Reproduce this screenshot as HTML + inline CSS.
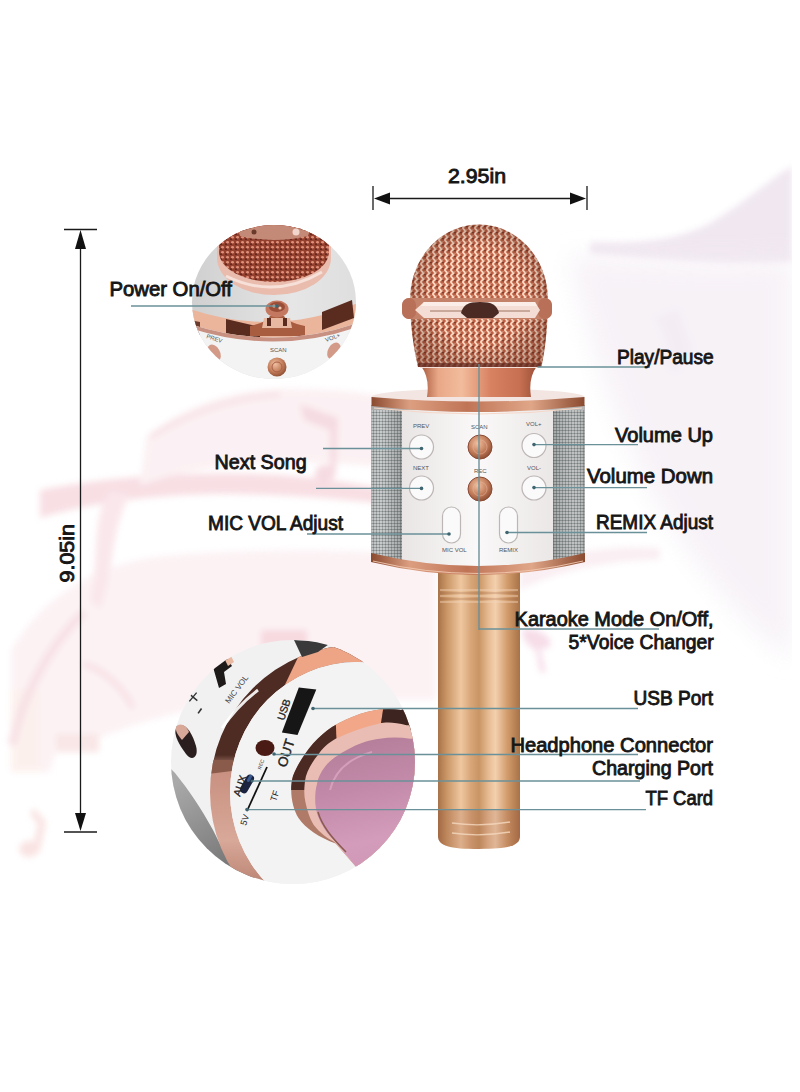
<!DOCTYPE html>
<html><head><meta charset="utf-8">
<style>
html,body{margin:0;padding:0;background:#fff;width:800px;height:1092px;overflow:hidden}
svg{display:block}
text{font-family:"Liberation Sans",sans-serif;font-weight:bold;fill:#161616}
.lbl text, text.lbl{font-weight:normal;stroke:#161616;stroke-width:0.85}
.lbl{font-size:19.5px}
.sm{font-size:6px;font-weight:normal;fill:#555}
.ld{stroke:#6a9199;stroke-width:1.4;fill:none}
.dim{stroke:#1a1a1a;stroke-width:1.3;fill:none}
</style></head>
<body>
<svg width="800" height="1092" viewBox="0 0 800 1092">
<defs>
  <filter id="blur8" x="-20%" y="-20%" width="140%" height="140%"><feGaussianBlur stdDeviation="8"/></filter>
  <filter id="blur12" x="-30%" y="-30%" width="160%" height="160%"><feGaussianBlur stdDeviation="12"/></filter>
  <filter id="blur3"><feGaussianBlur stdDeviation="3"/></filter>
  <filter id="blur1"><feGaussianBlur stdDeviation="0.8"/></filter>
  <linearGradient id="copperH" x1="0" x2="1" y1="0" y2="0">
    <stop offset="0" stop-color="#8a4a30"/><stop offset="0.18" stop-color="#dc9e80"/>
    <stop offset="0.45" stop-color="#c07456"/><stop offset="0.75" stop-color="#e0a688"/>
    <stop offset="1" stop-color="#8a4a30"/>
  </linearGradient>
  <linearGradient id="handleG" x1="0" x2="1">
    <stop offset="0" stop-color="#a87248"/><stop offset="0.1" stop-color="#c89464"/>
    <stop offset="0.28" stop-color="#efc7a0"/><stop offset="0.4" stop-color="#d8a678"/>
    <stop offset="0.5" stop-color="#c99565"/><stop offset="0.62" stop-color="#e8bc94"/>
    <stop offset="0.7" stop-color="#f3d0ae"/><stop offset="0.85" stop-color="#d09a6a"/>
    <stop offset="1" stop-color="#a87248"/>
  </linearGradient>
  <linearGradient id="grilleG" x1="0" x2="1">
    <stop offset="0" stop-color="#a9a9a9"/><stop offset="0.5" stop-color="#cfcfcf"/><stop offset="1" stop-color="#b5b5b5"/>
  </linearGradient>
  <pattern id="dots" width="3" height="3" patternUnits="userSpaceOnUse">
    <circle cx="1.5" cy="1.5" r="1.1" fill="#4f5555" fill-opacity="0.6"/><circle cx="0" cy="0" r="0.7" fill="#f0f0f0" fill-opacity="0.7"/><circle cx="3" cy="3" r="0.7" fill="#f0f0f0" fill-opacity="0.7"/><circle cx="3" cy="0" r="0.7" fill="#f0f0f0" fill-opacity="0.7"/><circle cx="0" cy="3" r="0.7" fill="#f0f0f0" fill-opacity="0.7"/>
  </pattern>
  <linearGradient id="grL" x1="0" x2="1"><stop offset="0" stop-color="#b4b8b8"/><stop offset="0.3" stop-color="#c4c8c8"/><stop offset="0.7" stop-color="#a8acac"/><stop offset="1" stop-color="#8c9090"/></linearGradient>
  <linearGradient id="grR" x1="0" x2="1"><stop offset="0" stop-color="#8c9090"/><stop offset="0.3" stop-color="#a8acac"/><stop offset="0.7" stop-color="#b8bcbc"/><stop offset="1" stop-color="#a4a8a8"/></linearGradient>
  <linearGradient id="dotMaskL" x1="0" x2="1"><stop offset="0" stop-color="#fff" stop-opacity="0.25"/><stop offset="1" stop-color="#fff" stop-opacity="1"/></linearGradient>
  <pattern id="mesh" width="6" height="6" patternUnits="userSpaceOnUse">
    <rect width="6" height="6" fill="#bd5f45"/>
    <path d="M0.5,0 L3.5,3 L0.5,6" stroke="#fbd9c2" stroke-width="1.9" fill="none"/>
    <path d="M3.5,3 L5.5,1" stroke="#e8a48a" stroke-width="0.9" fill="none"/>
    <circle cx="5" cy="4.6" r="0.9" fill="#7a3424"/>
  </pattern>
  <radialGradient id="headShade" cx="0.5" cy="0.5" r="0.62">
    <stop offset="0.55" stop-color="#000" stop-opacity="0"/><stop offset="1" stop-color="#5a2414" stop-opacity="0.4"/>
  </radialGradient>
  <linearGradient id="panelG" x1="0" x2="1">
    <stop offset="0" stop-color="#e9e5e5"/><stop offset="0.5" stop-color="#faf8f8"/><stop offset="1" stop-color="#ebe7e7"/>
  </linearGradient>
  <radialGradient id="btnCopper" cx="0.4" cy="0.35" r="0.7">
    <stop offset="0" stop-color="#f0c0a0"/><stop offset="0.6" stop-color="#c07a58"/><stop offset="1" stop-color="#8a4a30"/>
  </radialGradient>
  <clipPath id="c1"><ellipse cx="274" cy="302" rx="82" ry="77"/></clipPath>
  <clipPath id="c2"><circle cx="293" cy="762" r="122"/></clipPath>
  <linearGradient id="c1grey" x1="0" x2="1">
    <stop offset="0" stop-color="#cfcfcf"/><stop offset="0.6" stop-color="#e6e6e6"/><stop offset="1" stop-color="#dedede"/>
  </linearGradient>
  <linearGradient id="band2G" gradientUnits="userSpaceOnUse" x1="0" y1="640" x2="0" y2="890">
    <stop offset="0" stop-color="#4e2c24"/><stop offset="0.46" stop-color="#4e2c24"/>
    <stop offset="0.52" stop-color="#c89080"/><stop offset="0.8" stop-color="#d8a898"/><stop offset="1" stop-color="#b88070"/>
  </linearGradient>
  <clipPath id="band2clip"><path fill-rule="evenodd" clip-rule="evenodd" d="M210,792 A147,147 0 1 0 504,792 A147,147 0 1 0 210,792 Z M230,792 A127,130 0 1 0 484,792 A127,130 0 1 0 230,792 Z"/></clipPath>
  <pattern id="mesh1" width="5" height="5" patternUnits="userSpaceOnUse">
    <rect width="5" height="5" fill="#94402e"/>
    <ellipse cx="2.5" cy="2.2" rx="1.5" ry="1.3" fill="#e0907a"/>
    <circle cx="1" cy="4.2" r="0.9" fill="#5a2018"/>
  </pattern>
  <linearGradient id="pinkG" gradientUnits="userSpaceOnUse" x1="360" y1="740" x2="390" y2="870">
    <stop offset="0" stop-color="#b57f9b"/><stop offset="0.35" stop-color="#c28aa8"/><stop offset="0.75" stop-color="#d49cbb"/><stop offset="1" stop-color="#cf96b6"/>
  </linearGradient>
  <linearGradient id="collarG" x1="0" x2="1">
    <stop offset="0" stop-color="#a85a3e"/><stop offset="0.15" stop-color="#e9a888"/><stop offset="0.35" stop-color="#f2bc9c"/>
    <stop offset="0.6" stop-color="#d88262"/><stop offset="0.85" stop-color="#c87052"/><stop offset="1" stop-color="#9a5038"/>
  </linearGradient>
  <linearGradient id="greyCres" gradientUnits="userSpaceOnUse" x1="180" y1="780" x2="240" y2="880">
    <stop offset="0" stop-color="#a9a9a9"/><stop offset="0.5" stop-color="#8c8c8c"/><stop offset="1" stop-color="#6e6e6e"/>
  </linearGradient>
</defs>

<!-- background swooshes -->
<g filter="url(#blur3)" opacity="0.7">
  <!-- big lower-left sheet -->
  <path d="M11,650 C40,600 90,565 160,556 C250,548 350,548 436,556 L436,700 L300,700 C220,700 160,715 110,734 L56,752 L50,772 L11,772 Z" fill="#fbedf0"/>
  <rect x="56" y="734" width="43" height="18" fill="#f7dcdc"/>
  <path d="M11,690 L40,690 L40,772 L11,772 Z" fill="#fbebe6"/>
  <path d="M84,612 C45,650 22,700 12,745" stroke="#f5d6dc" stroke-width="9" fill="none"/>
  <path d="M83,664 C100,668 122,685 133,708" stroke="#f5d4da" stroke-width="6" fill="none"/>
  <!-- mid ribbon -->
  <path d="M40,490 C100,478 180,472 260,474 C320,476 370,486 400,492 L400,506 C350,500 290,494 220,494 C150,495 90,503 40,518 Z" fill="#f5d2d9"/>
  <path d="M110,490 C90,520 100,560 90,600 L100,610 C115,570 110,530 130,495 Z" fill="#f8dde3"/>
  
  <!-- upper sheet -->
  <path d="M146,437 C180,410 220,392 277,389 C320,388 370,392 400,400 L400,470 C340,460 260,460 200,470 C175,474 155,480 140,486 Z" fill="#faebee"/>
  <path d="M150,437 C190,412 230,398 280,394" stroke="#f4d4da" stroke-width="5" fill="none"/>
  <!-- music note upper -->
  <path d="M300,404 L338,418 L336,470 C336,482 322,486 316,478 C312,470 320,462 330,466 L330,430 L304,420 Z" fill="#f2ccd5"/>
  <!-- music note bottom-left -->
  <path d="M34,808 L46,822 L40,850 C36,858 24,860 20,852 C17,845 26,838 34,842 L38,824 L30,814 Z" fill="#f6d8d6"/>
  <!-- pink blob above circle 2 -->
  <rect x="261" y="630" width="46" height="17" fill="#f4cad3"/>
  <!-- right lavender wave -->
  <path d="M590,242 C640,244 680,240 712,222 C745,202 772,178 792,166 L792,262 C740,266 680,262 590,254 Z" fill="#eadeea"/>
  
  <path d="M655,318 L678,310 L692,350 L676,372 C668,368 665,360 670,352 L662,330 Z" fill="#e8e0e8"/>
  <path d="M520,570 C560,552 610,545 660,548 L660,560 C610,560 560,570 520,590 Z" fill="#f8e8ee"/>
  <!-- pink music note right -->
  <path d="M522,630 C530,626 545,632 550,640 C552,648 546,650 540,648 L546,672 L540,672 L536,650 C530,648 522,640 522,630 Z" fill="#f3cfdf"/>
</g>

<g filter="url(#blur12)" opacity="0.8">
  <path d="M570,256 C640,258 720,268 792,258 L792,660 C740,620 690,560 650,490 C615,420 585,330 570,256 Z" fill="#f5eff5"/>
</g>
<rect x="792" y="0" width="8" height="1092" fill="#ffffff"/>
<!-- dimension: width -->
<g>
  <line class="dim" x1="373" y1="186" x2="373" y2="210"/>
  <line class="dim" x1="587" y1="186" x2="587" y2="210"/>
  <line class="dim" x1="380" y1="198.5" x2="580" y2="198.5"/>
  <path d="M374,198.5 L390,192.5 L390,204.5 Z" fill="#111"/>
  <path d="M586,198.5 L570,192.5 L570,204.5 Z" fill="#111"/>
  <text class="lbl" x="448" y="182.5" textLength="58" lengthAdjust="spacingAndGlyphs">2.95in</text>
</g>
<!-- dimension: height -->
<g>
  <line class="dim" x1="64" y1="229.5" x2="97" y2="229.5"/>
  <line class="dim" x1="64" y1="832" x2="97" y2="832"/>
  <line class="dim" x1="80.5" y1="235" x2="80.5" y2="826"/>
  <path d="M80.5,230 L75,249 L86,249 Z" fill="#111"/>
  <path d="M80.5,831 L75,813 L86,813 Z" fill="#111"/>
  <text class="lbl" transform="translate(74,582.5) rotate(-90)" x="0" y="0" textLength="58.5" lengthAdjust="spacingAndGlyphs">9.05in</text>
</g>

<!-- ============ CIRCLE 1 ============ -->
<g clip-path="url(#c1)">
  <rect x="190" y="220" width="170" height="170" fill="url(#c1grey)"/>
  <!-- bowl -->
  <ellipse cx="274" cy="258" rx="57" ry="37" fill="#e9bcae"/>
  <path d="M217,226 L331,226 L331,258 L217,258 Z" fill="#e9bcae"/>
  <ellipse cx="274" cy="252" rx="55" ry="30" fill="url(#mesh1)"/>
  <path d="M219,226 L329,226 L329,248 L219,248 Z" fill="url(#mesh1)"/>
  <path d="M236,224 L312,224 L308,236 Q274,244 240,236 Z" fill="#c48a78"/>
  <circle cx="296" cy="232" r="3.5" fill="#f2d6cc"/>
  <circle cx="254" cy="232" r="2.5" fill="#6a3a2a"/>
  <path d="M226,276 Q274,300 322,272" stroke="#f6e0d8" stroke-width="3" fill="none"/>
  <!-- band -->
  <path d="M190,309 Q277,338 360,302 L360,322 Q277,352 190,324 Z" fill="#ebb59c"/>
  <path d="M226,319 L260,327 L260,342 L226,334 Z" fill="#5a2c20"/>
  <path d="M322,312 L352,300 L354,318 L322,330 Z" fill="#5a2c20"/>
  <path d="M190,320 L200,322 L200,336 L190,334 Z" fill="#6a3a2c"/>
  <!-- knob flare -->
  <path d="M250,326 Q268,322 270,316 L284,316 Q287,322 305,326 L305,336 L250,336 Z" fill="#a85c40"/>
  <path d="M264,318 L290,318 L292,328 L262,328 Z" fill="#e8b8a0"/>
  <ellipse cx="277" cy="309" rx="11.5" ry="8.5" fill="#c47860"/>
  <ellipse cx="277" cy="307" rx="8" ry="5" fill="#9a4e38"/>
  <circle cx="274" cy="306" r="1.6" fill="#f0c8b0"/><circle cx="280" cy="308" r="1.6" fill="#f0c8b0"/>
  <path d="M267,318 L271,318 L271,326 L267,326 Z M283,318 L287,318 L287,326 L283,326 Z" fill="#5a2c20"/>
  <!-- lower white area -->
  <path d="M190,324 Q277,352 360,322 L360,390 L190,390 Z" fill="#f3f3f3"/>
  <path d="M190,324 Q277,352 360,322 L360,326 Q277,356 190,328 Z" fill="#c89080"/>
  <circle cx="277" cy="367" r="9.5" fill="url(#btnCopper)"/>
  <circle cx="277" cy="367" r="5" fill="none" stroke="#a86048" stroke-width="1"/>
  <ellipse cx="214" cy="353" rx="6" ry="9" fill="#d49a88" transform="rotate(-30 214 353)"/>
  <ellipse cx="334" cy="351" rx="6" ry="9" fill="#d49a88" transform="rotate(30 334 351)"/>
  <text class="sm" x="270" y="352">SCAN</text>
  <text class="sm" transform="translate(206,338) rotate(18)">PREV</text>
  <text class="sm" transform="translate(326,342) rotate(-20)">VOL+</text>
</g>

<!-- ============ MIC ============ -->
<g id="mic">
  <!-- handle -->
  <path d="M438,566 L520,566 L520,836 C520,846 508,849 479,849 C450,849 438,846 438,836 Z" fill="url(#handleG)"/>
  <path d="M438,810 L520,810 L520,836 C520,846 508,849 479,849 C450,849 438,846 438,836 Z" fill="#8a4030" opacity="0.18"/>
  <g stroke="#f3d6bc" stroke-width="1" opacity="0.85" fill="none">
    <line x1="440" y1="590" x2="518" y2="590"/><line x1="440" y1="596" x2="518" y2="596"/><line x1="440" y1="602" x2="518" y2="602"/>
    <path d="M452,823 Q480,827 510,822" stroke-width="1.3"/><path d="M452,833 Q480,837 510,832" stroke-width="1.3"/>
  </g>
  <g stroke="#9a6040" stroke-width="0.8" opacity="0.6" fill="none">
    <line x1="440" y1="593" x2="518" y2="593"/><line x1="440" y1="599" x2="518" y2="599"/>
  </g>
  <!-- body -->
  <clipPath id="bodyclip"><path d="M371,405 L585,405 L585,556 Q478,582 371,556 Z"/></clipPath>
  <g clip-path="url(#bodyclip)">
  <rect x="371" y="405" width="214" height="180" fill="url(#grilleG)"/>
  <rect x="371.5" y="410" width="30.5" height="170" fill="url(#grL)"/><rect x="371.5" y="410" width="30.5" height="170" fill="url(#dots)"/>
  <rect x="553" y="410" width="31.5" height="170" fill="url(#grR)"/><rect x="553" y="410" width="31.5" height="170" fill="url(#dots)"/>
  <rect x="402" y="410" width="151" height="170" fill="url(#panelG)"/>
  </g>
  <!-- bottom rim -->
  <path d="M371,553 Q478,579 585,553 L585,562 Q478,588 371,562 Z" fill="url(#copperH)"/>
  <path d="M373,561 Q478,586 583,561" stroke="#f0c8b0" stroke-width="0.9" fill="none"/>
  <!-- top rim -->
  <ellipse cx="478" cy="397" rx="106.5" ry="8.5" fill="#f3e6e2"/>
  <path d="M371.5,397 Q478,406 584.5,397 L584.5,406 Q478,418 371.5,406 Z" fill="url(#copperH)"/>
  <path d="M374,408 Q478,420 582,408" stroke="#f6d8c8" stroke-width="1" fill="none"/>
  <!-- collar -->
  <path d="M421,366 L537,366 Q528,378 531,397 L427,397 Q430,378 421,366 Z" fill="url(#collarG)"/>
  <!-- head -->
  <path d="M410,300 C410,258 441,224.5 479,224.5 C517,224.5 548,258 548,300 C548,325 545,350 541.5,367 L418,367 C414,350 410,325 410,300 Z" fill="url(#mesh)"/>
  <path d="M410,300 C410,258 441,224.5 479,224.5 C517,224.5 548,258 548,300 C548,325 545,350 541.5,367 L418,367 C414,350 410,325 410,300 Z" fill="url(#headShade)"/>
  <path d="M418,363 L541.5,363 L541,367 L418,367 Z" fill="#6a3024" opacity="0.75"/>
  <path d="M420,367.5 L540,367.5" stroke="#f4e0d8" stroke-width="1.2"/>
  <!-- head band -->
  <rect x="402" y="298" width="150" height="21" rx="8" fill="#c4826a"/>
  <rect x="402" y="298" width="14" height="21" rx="7" fill="#b87058"/>
  <rect x="538" y="298" width="14" height="21" rx="7" fill="#b87058"/>
  <path d="M415,310 L424,302 L535,302 L540,310 L535,318 L424,318 Z" fill="#f4ddd4"/>
  <path d="M424,302 L535,302 L537,306 L421,306 Z" fill="#fbeee8"/>
  <path d="M430,311 L530,311" stroke="#8a5a4a" stroke-width="0.8"/>
  <path d="M461,313 C463,305 468,302 480,302 C492,302 497,305 499,313 L493,318 L467,318 Z" fill="#4a2a22"/>
  <!-- buttons -->
  <text class="sm" x="413" y="428">PREV</text>
  <text class="sm" x="471" y="429">SCAN</text>
  <text class="sm" x="526" y="426">VOL+</text>
  <text class="sm" x="413" y="470">NEXT</text>
  <text class="sm" x="474" y="473">REC</text>
  <text class="sm" x="527" y="470">VOL-</text>
  <g fill="#fbfafa" stroke="#bdb6b6" stroke-width="1.2">
    <circle cx="421.5" cy="447" r="12"/><circle cx="534" cy="445.5" r="12"/>
    <circle cx="421.5" cy="488" r="12"/><circle cx="534" cy="488" r="12"/>
    <rect x="442.5" y="507" width="18" height="36" rx="9"/>
    <rect x="499.5" y="507" width="18" height="36" rx="9"/>
  </g>
  <circle cx="480" cy="447" r="12" fill="url(#btnCopper)" stroke="#8a4a34" stroke-width="1"/>
  <circle cx="480" cy="489" r="12" fill="url(#btnCopper)" stroke="#8a4a34" stroke-width="1"/>
  <circle cx="480" cy="447" r="7" fill="none" stroke="#e8b49a" stroke-width="0.8" opacity="0.7"/>
  <circle cx="480" cy="489" r="7" fill="none" stroke="#e8b49a" stroke-width="0.8" opacity="0.7"/>
  <text class="sm" x="442" y="552">MIC VOL</text>
  <text class="sm" x="499" y="552">REMIX</text>
</g>

<!-- ============ CIRCLE 2 ============ -->
<g clip-path="url(#c2)">
  <rect x="170" y="638" width="248" height="248" fill="#f1f1f1"/>
  <!-- grey crescent lower-left -->
  <path d="M166,764 L175,773 C188,789 201,808 213,830 L222,848 L236,866 L268,886 L166,886 Z" fill="url(#greyCres)"/>
  
  <!-- outer band ring -->
  <path fill-rule="evenodd" fill="url(#band2G)" d="M210,792 A147,147 0 1 0 504,792 A147,147 0 1 0 210,792 Z M230,792 A127,130 0 1 0 484,792 A127,130 0 1 0 230,792 Z"/>
  <g clip-path="url(#band2clip)">
    <path d="M311,630 L420,630 L420,700 L277.7,700 Z" fill="#eea586"/>
    <path d="M200,760 L240,760 L240,770 L200,775 Z" fill="#8a5a4a"/>
  </g>
  <!-- white highlight along outer band -->
  <path d="M258,690 Q238,705 222,728" stroke="#ffffff" stroke-width="3" fill="none" opacity="0.9"/>
  <!-- white base -->
  <ellipse cx="357" cy="792" rx="127" ry="130" fill="#f4f3f3"/>
  <!-- grille triangle top -->
  <path d="M294,640 L332,642 L318,652 L302,657 Z" fill="#3a3a3a"/>
  <!-- side panel items -->
  <path d="M213,667 L227,658 L232,666 L224,672 L226,684 L219,688 Z" fill="#1e1a1a"/>
  <path d="M225,660 L231,656 L234,662 L228,666 Z" fill="#e8b8a0"/>
  <text transform="translate(229,704) rotate(-53)" style="font-size:8px;font-weight:normal;fill:#444">MIC VOL</text>
  <path d="M189,693 L197,701 M189,701 L197,693" stroke="#333" stroke-width="1.4" transform="rotate(-5 193 697)"/>
  <rect x="197" y="710" width="6" height="1.6" fill="#333" transform="rotate(-55 200 711)"/>
  <path d="M176,727 C184,720 192,732 196,746 C199,757 192,762 186,754 C180,746 173,735 176,727 Z" fill="#2a1e1e"/>
  <path d="M176,727 C180,722 186,725 189,732 L182,740 C178,735 175,731 176,727 Z" fill="#d8a898"/>
  <!-- pink handle ring -->
  <clipPath id="ringO"><path d="M430,700 L401,710 C380,706 355,713 332,727 C315,738 300,758 293,776 C289,790 292,808 298.5,818 C305,828 320,838 335.6,843.4 L358,869 L430,900 Z"/></clipPath>
  <g clip-path="url(#ringO)">
    <rect x="280" y="690" width="150" height="200" fill="#b07a68"/>
    <path d="M280,690 L334,690 L337,745 L305,790 L280,790 Z" fill="#4a2a22"/>
    <path d="M334,690 L386,690 L380,730 L337,745 Z" fill="#f2a888"/>
    <path d="M386,690 L430,690 L430,730 L380,730 Z" fill="#3e2420"/>
  </g>
  <path fill="#e9bdb3" d="M430,725 L406.5,725.3 C395,722 385,722 379.5,723.6 C365,727 350,732 335.6,738.8 C328,743 322,749 318.7,754 C312,762 306,772 305,781 C304,790 304,795 305.2,801 C307,810 310,819 313.7,825 C320,833 327,838 334,841.7 L358,869 L430,900 Z"/>
  <path fill="url(#pinkG)" d="M430,738 L410,738.8 C400,737 390,737 379.5,738.8 C370,740 360,743 352.5,747 C342,752 333,758 327.2,764 C322,770 318,777 317,784 C315,791 315,798 315.4,804.6 C316,810 317,814 318.7,818 C323,828 329,836 334,840 L357.6,868.7 L430,900 Z"/>
  <path d="M318,812 C322,826 332,838 346,852" stroke="#8a5a50" stroke-width="1.5" fill="none"/>
  <path d="M330,790 C335,770 350,758 372,752" stroke="#d9a6c0" stroke-width="2" fill="none" opacity="0.8"/>
  <!-- ports -->
  <path d="M298.8,687.5 L316.3,689.4 L297.5,735 L281.9,732.5 Z" fill="#161616"/>
  <ellipse cx="265" cy="748" rx="9.5" ry="8" fill="#4a1a14"/>
  <rect x="-4" y="-10" width="8" height="20" rx="4" fill="#1a2440" transform="translate(247,784) rotate(30)"/><rect x="-2" y="-8" width="3" height="8" rx="1.5" fill="#3a5a90" transform="translate(248,782) rotate(30)"/>
  <line x1="267" y1="767" x2="247" y2="811" stroke="#111" stroke-width="1.8"/>
  <text transform="translate(284,721) rotate(-72)" style="font-size:10.5px;font-weight:normal;fill:#222;stroke:#222;stroke-width:0.3">USB</text>
  <text transform="translate(286,768) rotate(-72)" style="font-size:13.5px;font-weight:normal;fill:#222;stroke:#222;stroke-width:0.4">OUT</text>
  <text transform="translate(240,797) rotate(-72)" style="font-size:10.5px;font-weight:normal;fill:#222;stroke:#222;stroke-width:0.3">AUX</text><text transform="translate(261,770) rotate(-72)" style="font-size:5px;font-weight:normal;fill:#333">REC</text>
  <text transform="translate(276,802) rotate(-72)" style="font-size:9px;font-weight:normal;fill:#222">TF</text>
  <text transform="translate(246,826) rotate(-72)" style="font-size:9px;font-weight:normal;fill:#222">5V</text>
</g>

<!-- ============ LEADER LINES ============ -->
<g class="ld">
  <polyline points="131,306 277,306"/>
  <polyline points="537.5,367 650,367"/>
  <line x1="479" y1="364" x2="479" y2="630"/>
  <polyline points="479,629 659,629"/>
  <polyline points="323,448.5 421.5,448.5"/>
  <polyline points="316,488.4 421.5,488.4"/>
  <polyline points="307,534 449,534"/>
  <polyline points="534,444.6 638,444.6"/>
  <polyline points="534,487.6 647,487.6"/>
  <polyline points="507,532.5 647,532.5"/>
  <polyline points="312,708.5 638,708.5"/>
  <polyline points="275,754.5 638,754.5"/>
  <polyline points="252,781 640,781"/>
  <polyline points="247,809.6 646,809.6"/>
</g>

<g fill="#3f6670">
  <circle cx="421.5" cy="448.5" r="1.8"/><circle cx="421.5" cy="488.4" r="1.8"/><circle cx="449" cy="534" r="1.8"/>
  <circle cx="534" cy="444.6" r="1.8"/><circle cx="534" cy="487.6" r="1.8"/><circle cx="507" cy="532.5" r="1.8"/>
  <circle cx="277" cy="306" r="1.8"/><circle cx="313" cy="708.5" r="1.8"/><circle cx="274" cy="754" r="1.8"/>
  <circle cx="252" cy="781" r="1.5"/><circle cx="247" cy="809.6" r="1.8"/>
</g>
<!-- ============ LABELS ============ -->
<g class="lbl">
  <text x="109.5" y="296" textLength="122.5" lengthAdjust="spacingAndGlyphs">Power On/Off</text>
  <text x="617" y="363.6" textLength="96.6" lengthAdjust="spacingAndGlyphs">Play/Pause</text>
  <text x="615" y="441.7" textLength="98" lengthAdjust="spacingAndGlyphs">Volume Up</text>
  <text x="587" y="482.5" textLength="126" lengthAdjust="spacingAndGlyphs">Volume Down</text>
  <text x="596" y="528.7" textLength="117" lengthAdjust="spacingAndGlyphs">REMIX Adjust</text>
  <text x="214.6" y="468.6" textLength="92" lengthAdjust="spacingAndGlyphs">Next Song</text>
  <text x="208" y="530.4" textLength="135" lengthAdjust="spacingAndGlyphs">MIC VOL Adjust</text>
  <text x="514.6" y="626" textLength="199" lengthAdjust="spacingAndGlyphs">Karaoke Mode On/Off,</text>
  <text x="568.6" y="648.5" textLength="145" lengthAdjust="spacingAndGlyphs">5*Voice Changer</text>
  <text x="633.5" y="704.6" textLength="79.5" lengthAdjust="spacingAndGlyphs">USB Port</text>
  <text x="510.4" y="752" textLength="202.6" lengthAdjust="spacingAndGlyphs">Headphone Connector</text>
  <text x="592" y="774.5" textLength="121" lengthAdjust="spacingAndGlyphs">Charging Port</text>
  <text x="645.5" y="804.7" textLength="67.5" lengthAdjust="spacingAndGlyphs">TF Card</text>
</g>
</svg>
</body></html>
